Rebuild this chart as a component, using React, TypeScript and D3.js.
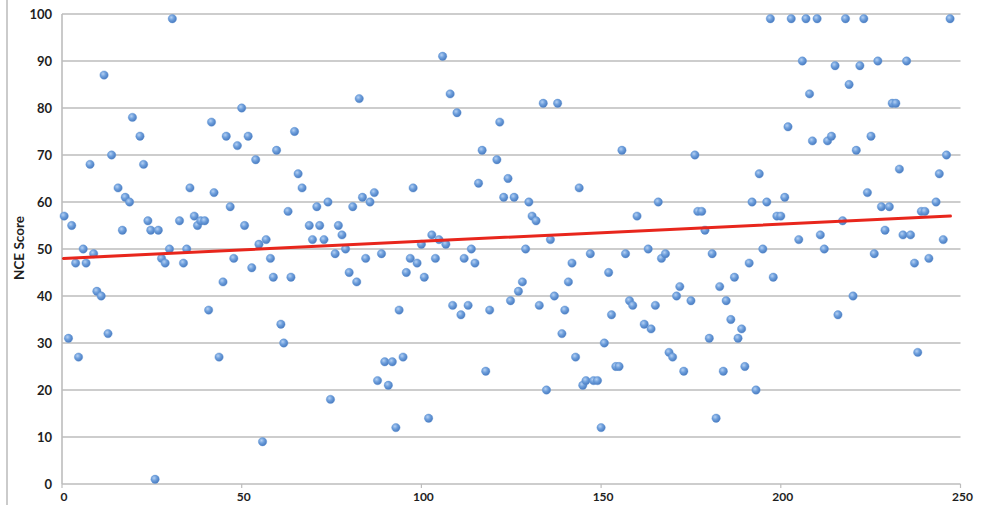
import React from "react";
import * as d3 from "d3";

const xValues: number[] = [
  0.6, 1.8, 2.7, 3.8, 4.6, 5.9, 6.7, 7.8, 8.8, 9.7, 10.9, 11.7, 12.8, 13.8, 15.6, 16.8, 17.6, 18.8, 19.6, 21.7,
  22.7, 23.9, 24.7, 25.9, 26.8, 27.7, 28.7, 29.9, 30.7, 32.7, 33.8, 34.7, 35.6, 36.8, 37.7, 38.6, 39.7, 40.8, 41.6, 42.3,
  43.7, 44.8, 45.7, 46.8, 47.8, 48.8, 50.0, 50.8, 51.8, 52.8, 53.9, 54.8, 55.8, 56.8, 58.0, 58.8, 59.7, 60.9, 61.7, 62.9,
  63.7, 64.7, 65.7, 66.8, 68.8, 69.7, 70.9, 71.7, 72.9, 74.0, 74.7, 76.0, 76.9, 77.9, 78.9, 79.9, 80.9, 82.0, 82.7, 83.6,
  84.5, 85.7, 86.9, 87.8, 88.9, 89.8, 90.8, 91.9, 92.9, 93.8, 94.9, 95.8, 96.9, 97.7, 98.8, 100.0, 100.8, 102.0, 102.9, 103.9,
  104.9, 105.9, 106.8, 108.0, 108.7, 109.9, 111.0, 111.9, 113.0, 113.9, 114.9, 115.9, 116.9, 117.9, 119.0, 121.0, 121.8, 122.9, 124.1, 124.8,
  125.8, 127.0, 128.1, 129.0, 129.9, 130.8, 131.9, 132.8, 133.9, 134.8, 135.9, 137.0, 137.9, 139.1, 139.9, 140.9, 141.9, 142.9, 143.9, 144.9,
  145.8, 147.0, 147.9, 149.0, 150.0, 150.9, 152.1, 152.9, 154.1, 155.0, 155.8, 156.8, 157.9, 158.8, 160.0, 162.0, 163.1, 163.9, 165.1, 165.9,
  166.8, 167.9, 168.9, 169.9, 171.0, 171.9, 173.0, 175.0, 176.1, 176.9, 178.0, 178.9, 180.1, 180.9, 182.0, 183.0, 184.0, 184.8, 186.1, 187.1,
  188.1, 189.1, 190.0, 191.2, 192.0, 193.1, 194.0, 195.0, 196.1, 197.1, 197.9, 198.9, 200.0, 201.1, 202.0, 202.9, 205.0, 206.0, 207.0, 208.0,
  208.8, 210.1, 211.0, 212.1, 213.0, 214.1, 215.1, 215.9, 217.2, 218.0, 219.0, 220.1, 221.0, 222.0, 223.1, 224.1, 225.1, 226.0, 227.0, 228.0,
  229.0, 230.2, 231.0, 232.0, 233.0, 234.0, 235.0, 236.1, 237.2, 238.1, 239.1, 240.1, 241.2, 243.2, 244.1, 245.2, 246.1, 247.1,
];

const scores: number[] = [
  57, 31, 55, 47, 27, 50, 47, 68, 49, 41, 40, 87, 32, 70, 63, 54, 61, 60, 78, 74,
  68, 56, 54, 1, 54, 48, 47, 50, 99, 56, 47, 50, 63, 57, 55, 56, 56, 37, 77, 62,
  27, 43, 74, 59, 48, 72, 80, 55, 74, 46, 69, 51, 9, 52, 48, 44, 71, 34, 30, 58,
  44, 75, 66, 63, 55, 52, 59, 55, 52, 60, 18, 49, 55, 53, 50, 45, 59, 43, 82, 61,
  48, 60, 62, 22, 49, 26, 21, 26, 12, 37, 27, 45, 48, 63, 47, 51, 44, 14, 53, 48,
  52, 91, 51, 83, 38, 79, 36, 48, 38, 50, 47, 64, 71, 24, 37, 69, 77, 61, 65, 39,
  61, 41, 43, 50, 60, 57, 56, 38, 81, 20, 52, 40, 81, 32, 37, 43, 47, 27, 63, 21,
  22, 49, 22, 22, 12, 30, 45, 36, 25, 25, 71, 49, 39, 38, 57, 34, 50, 33, 38, 60,
  48, 49, 28, 27, 40, 42, 24, 39, 70, 58, 58, 54, 31, 49, 14, 42, 24, 39, 35, 44,
  31, 33, 25, 47, 60, 20, 66, 50, 60, 99, 44, 57, 57, 61, 76, 99, 52, 90, 99, 83,
  73, 99, 53, 50, 73, 74, 89, 36, 56, 99, 85, 40, 71, 89, 99, 62, 74, 49, 90, 59,
  54, 59, 81, 81, 67, 53, 90, 53, 47, 28, 58, 58, 48, 60, 66, 52, 70, 99,
];

const xTicks: number[] = [0, 50, 100, 150, 200, 250];
const yTicks: number[] = [0, 10, 20, 30, 40, 50, 60, 70, 80, 90, 100];
const trendX: number[] = [0.4, 247.2];
const trendY: number[] = [48, 57];
const yTitle = "NCE Score";

const W = 994;
const H = 505;
const left = 62;
const right = 960.5;
const top = 14;
const bottom = 484;

export default function App() {
  const x = d3.scaleLinear().domain([0, 250]).range([left, right]);
  const y = d3.scaleLinear().domain([0, 100]).range([bottom, top]);
  const points = xValues.map((v, i) => ({ x: v, y: scores[i] }));
  const trend = d3
    .line<number>()
    .x((d) => x(d))
    .y((_, i) => y(trendY[i]))(trendX);
  const font = "Lato, 'Open Sans', 'DejaVu Sans', sans-serif";

  return (
    <div style={{ position: "absolute", left: 0, top: 0, width: W, height: H, overflow: "hidden", background: "#fff" }}>
      <svg width={W} height={H} viewBox={`0 0 ${W} ${H}`} style={{ display: "block" }}>
        <defs>
          <radialGradient id="dot" cx="0.38" cy="0.35" r="0.7">
            <stop offset="0" stopColor="#b4d0f3" />
            <stop offset="0.45" stopColor="#6e9fdc" />
            <stop offset="1" stopColor="#4577bd" />
          </radialGradient>
        </defs>
        <rect x={0} y={0} width={W} height={H} fill="#fff" />
        <line x1={7} x2={7} y1={0} y2={H} stroke="#a8a8a8" strokeWidth={1.2} />
        {yTicks.map((t) => (
          <line key={"g" + t} x1={left} x2={right} y1={y(t)} y2={y(t)} stroke="#bdbdbd" strokeWidth={1.6} />
        ))}
        <line x1={left} x2={left} y1={top} y2={bottom} stroke="#bdbdbd" strokeWidth={1.6} />
        {xTicks.map((t) => (
          <line key={"xt" + t} x1={x(t)} x2={x(t)} y1={bottom} y2={bottom + 4} stroke="#bdbdbd" strokeWidth={1.2} />
        ))}
        {yTicks.map((t) => (
          <text
            key={"yl" + t}
            x={52}
            y={y(t)}
            dy="0.35em"
            textAnchor="end"
            fontFamily={font}
            fontWeight={700}
            fontSize={13}
            fill="#1e1e1e"
          >
            {t}
          </text>
        ))}
        {xTicks.map((t) => (
          <text
            key={"xl" + t}
            x={x(t) + 2}
            y={501}
            textAnchor="middle"
            fontFamily={font}
            fontWeight={700}
            fontSize={12}
            fill="#1e1e1e"
          >
            {t}
          </text>
        ))}
        <text
          transform={`translate(24, ${y(50) - 1}) rotate(-90)`}
          textAnchor="middle"
          fontFamily={font}
          fontWeight={700}
          fontSize={13.5}
          fill="#1e1e1e"
        >
          {yTitle}
        </text>
        {points.map((p, i) => (
          <circle key={"p" + i} cx={x(p.x)} cy={y(p.y)} r={4.2} fill="url(#dot)" stroke="#5b8fd2" strokeWidth={0.4} />
        ))}
        <path d={trend ?? ""} fill="none" stroke="#e8261c" strokeWidth={3} strokeLinecap="round" />
      </svg>
    </div>
  );
}
